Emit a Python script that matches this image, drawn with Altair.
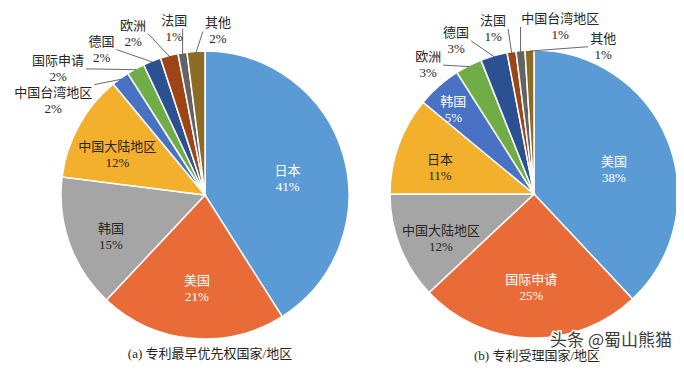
import math
import altair as alt
import pandas as pd

# ---------------- data ----------------
left_names = ["日本", "美国", "韩国", "中国大陆地区", "中国台湾地区", "国际申请", "德国", "欧洲", "法国", "其他"]
left_values = [41, 21, 15, 12, 2, 2, 2, 2, 1, 2]

right_names = ["美国", "国际申请", "中国大陆地区", "日本", "韩国", "欧洲", "德国", "法国", "中国台湾地区", "其他"]
right_values = [38, 25, 12, 11, 5, 3, 3, 1, 1, 1]

caption_texts = ["(a)  专利最早优先权国家/地区", "(b)  专利受理国家/地区"]
watermark_text = "头条 @蜀山熊猫"

# ---------------- layout / style ----------------
W, H = 668, 356
R = 144
PIE_CENTERS = [(197, 187), (526, 186)]
PALETTE = ["#5b9bd5", "#e96b37", "#a5a5a5", "#f2b02c", "#4a72c4",
           "#70ad47", "#2c5193", "#9e4516", "#636363", "#8e6b25"]
DARK_TEXT_SLOTS = {2, 3}
INSIDE_MIN = 5
FONT = "Liberation Serif, Noto Sans CJK SC"
TEXT_DARK = "#262626"
FS = 13
# outside label placement around each pie centre: angle (deg, clockwise from top), radius (px)
OUT_LABEL_POS = [
    {"其他": (4.3, 172), "法国": (-10, 177), "欧洲": (-23, 184), "德国": (-34, 185),
     "国际申请": (-47.6, 199), "中国台湾地区": (-56, 183)},
    {"其他": (24, 170), "中国台湾地区": (8.5, 177), "法国": (-13.3, 178),
     "德国": (-25.8, 179), "欧洲": (-37.7, 173)},
]
CAPTION_POS = [(202, 346), (529, 348)]
WATERMARK_Y = 333


def build(names, values, center, label_pos):
    cx, cy = center
    total = sum(values)
    rows, ins, outs, lines = [], [], [], []
    cum = 0
    for i, (n, v) in enumerate(zip(names, values)):
        mid = (cum + v / 2) / total * 2 * math.pi
        cum += v
        label = f"{n}\n{v}%"
        rows.append(dict(idx=i, name=n, value=v, slot=str(i)))
        if v >= INSIDE_MIN:
            r_in = 86 if v >= 20 else (100 if v >= 10 else 122)
            ins.append(dict(lx=cx + r_in * math.sin(mid), ly=cy - r_in * math.cos(mid),
                            label=label,
                            tc=TEXT_DARK if i in DARK_TEXT_SLOTS else "white"))
        else:
            ang, rad = label_pos[n]
            a = math.radians(ang)
            lx = cx + rad * math.sin(a)
            ly = cy - rad * math.cos(a)
            sx = cx + (R - 1) * math.sin(mid)
            sy = cy - (R - 1) * math.cos(mid)
            hw = len(n) * FS / 2 + 2
            hh = 8
            ex = min(max(sx, lx - hw), lx + hw)
            ey = min(max(sy, ly - hh), ly + hh)
            outs.append(dict(lx=lx, ly=ly, label=label))
            lines.append(dict(x=sx, y=sy, x2=ex, y2=ey))
    return pd.DataFrame(rows), pd.DataFrame(ins), pd.DataFrame(outs), pd.DataFrame(lines)


layers = []
for names, values, center, lp in [
    (left_names, left_values, PIE_CENTERS[0], OUT_LABEL_POS[0]),
    (right_names, right_values, PIE_CENTERS[1], OUT_LABEL_POS[1]),
]:
    df, ins, outs, lines = build(names, values, center, lp)
    cx, cy = center
    arcs = alt.Chart(df).mark_arc(outerRadius=R, stroke="white", strokeWidth=1.5).encode(
        theta=alt.Theta("value:Q", stack=True),
        order=alt.Order("idx:Q"),
        x=alt.value(cx),
        y=alt.value(cy),
        color=alt.Color("slot:N",
                        scale=alt.Scale(domain=[str(i) for i in range(10)], range=PALETTE),
                        legend=None),
    )
    in_txt = alt.Chart(ins).mark_text(font=FONT, fontSize=FS, lineBreak="\n",
                                      lineHeight=16).encode(
        x=alt.X("lx:Q", scale=None), y=alt.Y("ly:Q", scale=None), text="label:N",
        color=alt.Color("tc:N", scale=None))
    rules = alt.Chart(lines).mark_rule(color="#404040", strokeWidth=0.8).encode(
        x=alt.X("x:Q", scale=None), y=alt.Y("y:Q", scale=None),
        x2="x2:Q", y2="y2:Q")
    out_txt = alt.Chart(outs).mark_text(font=FONT, fontSize=FS, lineBreak="\n",
                                        lineHeight=16, color=TEXT_DARK).encode(
        x=alt.X("lx:Q", scale=None), y=alt.Y("ly:Q", scale=None), text="label:N")
    layers += [arcs, in_txt, rules, out_txt]

cap_df = pd.DataFrame({"t": caption_texts,
                       "x": [p[0] for p in CAPTION_POS],
                       "y": [p[1] for p in CAPTION_POS]})
captions = alt.Chart(cap_df).mark_text(font=FONT, fontSize=FS, color=TEXT_DARK).encode(
    x=alt.X("x:Q", scale=None), y=alt.Y("y:Q", scale=None), text="t:N")

wm_df = pd.DataFrame({"t": [watermark_text]})
wm_halo = alt.Chart(wm_df).mark_text(font="Noto Sans CJK SC", fontSize=17, color="white",
                                     align="right", stroke="white", strokeWidth=3).encode(
    x=alt.value(W - 4), y=alt.value(WATERMARK_Y), text="t:N")
wm = alt.Chart(wm_df).mark_text(font="Noto Sans CJK SC", fontSize=17, color="#3c3c3c",
                                align="right").encode(
    x=alt.value(W - 4), y=alt.value(WATERMARK_Y), text="t:N")

chart = alt.layer(*layers, captions, wm_halo, wm).resolve_scale(
    color="independent"
).properties(
    width=W, height=H, padding=0, autosize="none"
).configure_view(stroke=None)

chart.save("out.html", embed_options={"renderer": "svg", "actions": False})
